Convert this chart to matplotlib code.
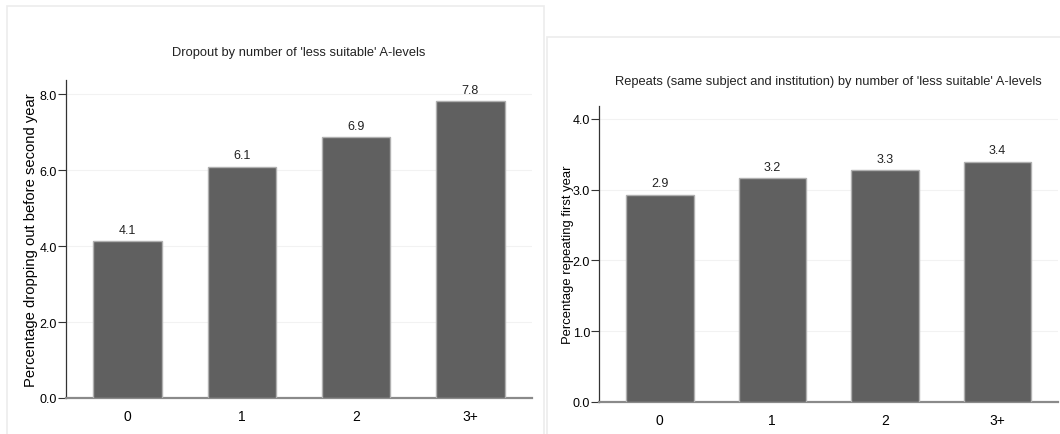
import matplotlib.pyplot as plt
from matplotlib.patches import Rectangle

plt.rcParams['font.family'] = ['Liberation Sans', 'DejaVu Sans']

##### DATA #####
groups = ["0", "1", "2", "3+"]
dropout = [4.12, 6.08, 6.86, 7.81]
repeats = [2.93, 3.16, 3.27, 3.39]
dropout_labels = ["4.1", "6.1", "6.9", "7.8"]
repeats_labels = ["2.9", "3.2", "3.3", "3.4"]
dropout_ticks = [0, 2, 4, 6, 8]
repeats_ticks = [0, 1, 2, 3, 4]

W, H = 1060, 435
fig = plt.figure(figsize=(W / 100, H / 100), dpi=100, facecolor='white')


def px_rect(x0, y0, x1, y1):
    # pixel box (top-left origin) -> figure fraction rect
    return [x0 / W, 1 - y1 / H, (x1 - x0) / W, (y1 - y0) / H]


# panel frames
for (x0, y0, x1, y1) in [(7, 7, 544, 445), (547, 38, 1070, 445)]:
    fig.add_artist(Rectangle((x0 / W, 1 - y1 / H), (x1 - x0) / W, (y1 - y0) / H,
                             transform=fig.transFigure, facecolor='none',
                             edgecolor='#ececec', linewidth=1.2))


def panel(rect, vals, labels, ticks, ymax, ylabel, title, title_y, ylab_size, ylab_pad):
    ax = fig.add_axes(px_rect(*rect))
    x = range(len(groups))
    ax.bar(x, vals, width=0.6, color='#606060', edgecolor='#b0b0b0', linewidth=1, zorder=3)
    for xi, v, lab in zip(x, vals, labels):
        ax.annotate(lab, (xi, v), xytext=(0, 4), textcoords='offset points',
                    ha='center', va='bottom', fontsize=9, color='#222222')
    ax.set_xlim(-0.54, 3.54)
    ax.set_ylim(0, ymax)
    ax.set_xticks(list(x))
    ax.set_xticklabels(groups, fontsize=10)
    ax.set_yticks(ticks)
    ax.set_yticklabels([f"{t:.1f}" for t in ticks], fontsize=9)
    ax.tick_params(axis='x', length=0, pad=8)
    ax.tick_params(axis='y', length=5.5, width=0.8, color='#333333', pad=1)
    ax.yaxis.grid(True, color='#f2f2f2', linewidth=0.8, zorder=0)
    ax.set_axisbelow(True)
    ax.spines['top'].set_visible(False)
    ax.spines['right'].set_visible(False)
    ax.spines['left'].set_color('#333333')
    ax.spines['left'].set_linewidth(0.9)
    ax.spines['bottom'].set_color('#8a8a8a')
    ax.spines['bottom'].set_linewidth(1.6)
    ax.set_ylabel(ylabel, fontsize=ylab_size, labelpad=ylab_pad)
    cx = (rect[0] + rect[2]) / 2
    fig.text(cx / W, 1 - title_y / H, title, ha='center', va='center',
             fontsize=9.3, color='#222222')
    return ax


panel((66, 81, 532, 399), dropout, dropout_labels, dropout_ticks, 8.37,
      "Percentage dropping out before second year",
      "Dropout by number of 'less suitable' A-levels", 53, 10.6, 1)
panel((599, 107, 1058, 403), repeats, repeats_labels, repeats_ticks, 4.18,
      "Percentage repeating first year",
      "Repeats (same subject and institution) by number of 'less suitable' A-levels", 82, 9.4, -1)

fig.savefig("out.png", dpi=100)
